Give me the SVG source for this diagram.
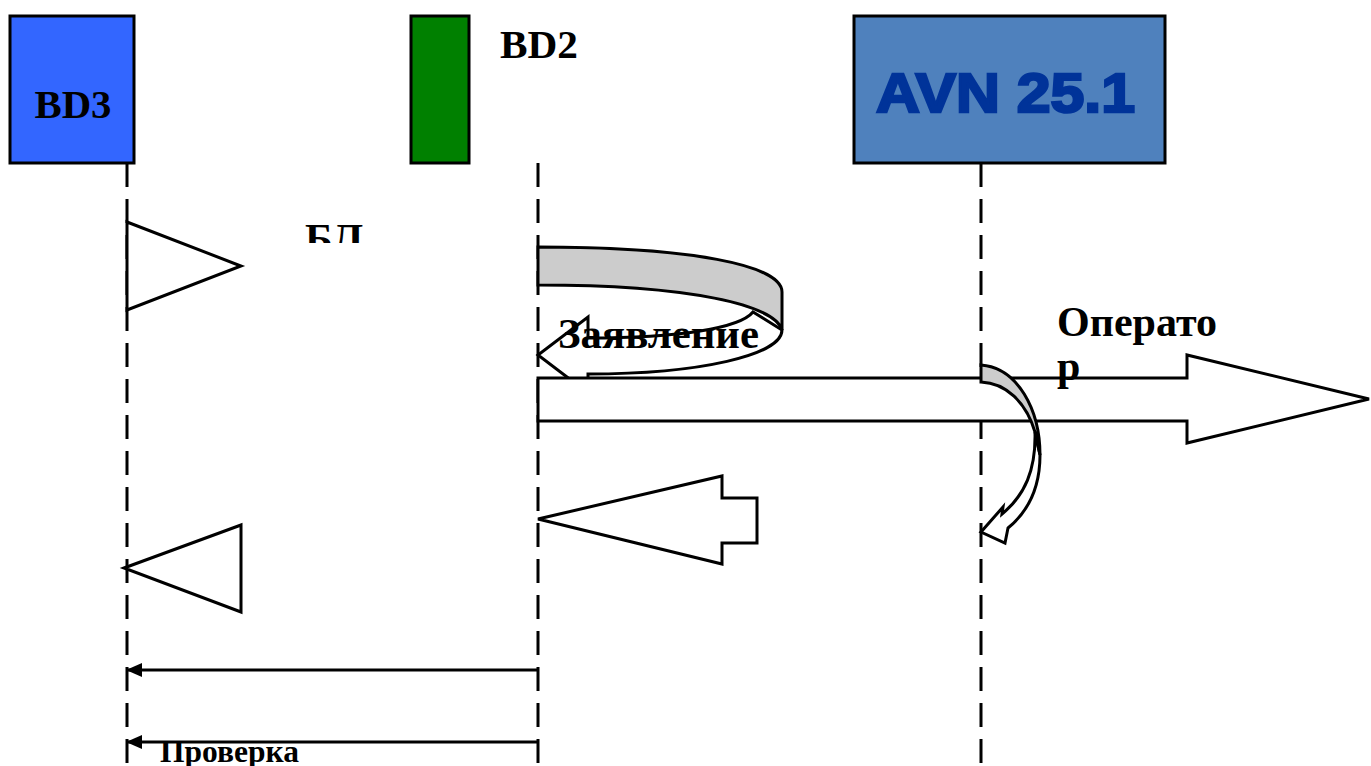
<svg xmlns="http://www.w3.org/2000/svg" width="1371" height="766" viewBox="0 0 1371 766">
<style>
.box{stroke:#000;stroke-width:3}
.life{stroke:#000;stroke-width:3;stroke-dasharray:24 12;fill:none}
.shape{fill:#fff;stroke:#000;stroke-width:3;stroke-linejoin:miter}
.gray{fill:#CCCCCC;stroke:#000;stroke-width:3}
.msg{stroke:#000;stroke-width:3;fill:none}
.t{font-family:"Liberation Serif","Times New Roman",serif;font-weight:bold;fill:#000}
</style>
<defs>
<marker id="ah" markerWidth="16" markerHeight="14" refX="16" refY="7" orient="auto" markerUnits="userSpaceOnUse">
<path d="M0,0 L16,7 L0,14 Z" fill="#000"/>
</marker>
<clipPath id="clipBL"><rect x="290" y="200" width="100" height="43"/></clipPath>
</defs>
<rect width="1371" height="766" fill="#fff"/>

<g id="BD3">
<rect class="box" x="10" y="16" width="124" height="147" fill="#3366FF"/>
<text class="t" x="73" y="118" font-size="41" text-anchor="middle" textLength="77" lengthAdjust="spacingAndGlyphs">BD3</text>
</g>
<g id="BD2">
<rect class="box" x="411" y="16" width="58" height="147" fill="#008000"/>
<text class="t" x="500" y="58" font-size="41" textLength="78" lengthAdjust="spacingAndGlyphs">BD2</text>
</g>
<g id="AVN">
<rect class="box" x="854" y="16" width="311" height="147" fill="#4F81BD"/>
<text x="876" y="112" font-family="'Liberation Sans',Arial,sans-serif" font-weight="bold" font-size="56" fill="#003399" stroke="#003399" stroke-width="2.5" textLength="259" lengthAdjust="spacingAndGlyphs">AVN 25.1</text>
</g>

<g id="lifelines">
<line class="life" x1="127" y1="163" x2="127" y2="766"/>
<line class="life" x1="538" y1="163" x2="538" y2="766"/>
<line class="life" x1="981" y1="163" x2="981" y2="766"/>
</g>

<g id="connectors">
<polygon class="shape" points="127,222 241,266 127,310"/>
<text class="t" x="305" y="253" font-size="42" clip-path="url(#clipBL)">БЛ</text>

<path class="shape" d="M753,312 C740,328 680,338 588,338 L588,317 L538,355 L588,393 L588,374 C700,374 782,355 782,330 Z"/>
<path class="gray" d="M538,247 C690,247 782,265 782,292 L782,330 C775,305 690,285 538,285 Z"/>

<polygon class="shape" points="538,378 1187,378 1187,355 1369,399 1187,443 1187,421 538,421"/>

<path class="shape" d="M1035,432 C1036,470 1025,495 1002,514 L1003,507 L981,532 L1005,543 L1008,528 C1030,510 1040,485 1040,455 Z"/>
<path class="gray" d="M981,365 C1018,368 1040,410 1040,455 L1035,432 C1026,402 1006,383 981,382 Z"/>

<polygon class="shape" points="538,519 722,476 722,498 757,498 757,543 722,543 722,564"/>
<polygon class="shape" points="124,568 241,525 241,612"/>

<line class="msg" x1="538" y1="670" x2="126" y2="670" marker-end="url(#ah)"/>
<line class="msg" x1="538" y1="742" x2="126" y2="742" marker-end="url(#ah)"/>
</g>

<g id="labels">
<text class="t" x="558" y="348" font-size="42" textLength="201" lengthAdjust="spacingAndGlyphs">Заявление</text>
<text class="t" x="1057" y="336" font-size="42" textLength="160" lengthAdjust="spacingAndGlyphs">Операто</text>
<text class="t" x="1057" y="380" font-size="42">р</text>
<text class="t" x="160" y="762" font-size="31" textLength="139" lengthAdjust="spacingAndGlyphs">Проверка</text>
</g>
</svg>
